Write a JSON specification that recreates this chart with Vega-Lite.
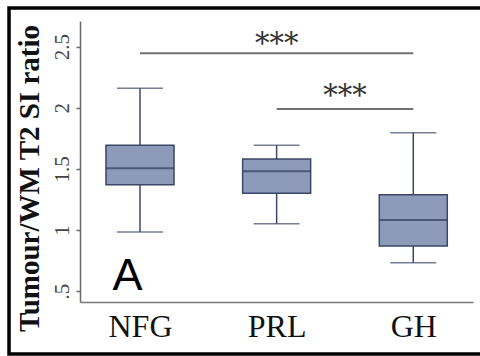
{
  "$schema": "https://vega.github.io/schema/vega-lite/v6.json",
  "width": 393,
  "height": 281,
  "autosize": {"type": "none"},
  "padding": {"left": 80, "top": 21, "right": 7, "bottom": 54},
  "background": "white",
  "config": {"view": {"stroke": null}},
  "datasets": {
    "boxes": [
      {"group": "NFG", "idx": 1, "lower": 0.983, "q1": 1.37, "median": 1.504, "q3": 1.693, "upper": 2.159},
      {"group": "PRL", "idx": 2, "lower": 1.051, "q1": 1.30, "median": 1.48, "q3": 1.58, "upper": 1.693},
      {"group": "GH", "idx": 3, "lower": 0.732, "q1": 0.868, "median": 1.081, "q3": 1.288, "upper": 1.796}
    ],
    "sig": [
      {"from": 1, "to": 3, "mid": 2, "y": 2.446, "ty": 2.446, "label": "***"},
      {"from": 2, "to": 3, "mid": 2.5, "y": 1.99, "ty": 2.02, "label": "***"}
    ]
  },
  "layer": [
    {
      "data": {"name": "boxes"},
      "mark": {"type": "rule", "color": "#3b4766", "strokeWidth": 1.5},
      "encoding": {
        "x": {
          "field": "idx", "type": "quantitative",
          "scale": {"domain": [0.561, 3.437], "nice": false, "zero": false, "padding": 0},
          "axis": {
            "values": [1, 2, 3],
            "labelExpr": "datum.value == 1 ? 'NFG' : datum.value == 2 ? 'PRL' : 'GH'",
            "title": null, "ticks": false, "grid": false,
            "domainColor": "#7a7a7a", "domainWidth": 1.5,
            "labelFont": "Liberation Serif", "labelFontSize": 32, "labelColor": "#111111",
            "labelPadding": 9, "labelFlush": false
          }
        },
        "y": {
          "field": "lower", "type": "quantitative",
          "scale": {"domain": [0.41, 2.71], "nice": false, "zero": false, "padding": 0},
          "axis": {
            "values": [0.5, 1, 1.5, 2, 2.5],
            "labelExpr": "datum.value == 0.5 ? '.5' : format(datum.value, '')",
            "title": "Tumour/WM T2 SI ratio",
            "titleFont": "Liberation Serif", "titleFontWeight": "bold", "titleFontSize": 29, "titleColor": "#111111",
            "titlePadding": 7, "titleY": 157,
            "grid": false, "tickSize": 4, "tickColor": "#6a6a6a", "tickWidth": 1.5,
            "domainColor": "#6a6a6a", "domainWidth": 1.5,
            "labelAngle": 270, "labelAlign": "center", "labelBaseline": "alphabetic", "labelPadding": 8,
            "labelFont": "Liberation Serif", "labelFontSize": 21, "labelColor": "#444444"
          }
        },
        "y2": {"field": "upper"}
      }
    },
    {
      "data": {"name": "boxes"},
      "mark": {"type": "bar", "width": 68, "fill": "#8d9aba", "stroke": "#3b4766", "strokeWidth": 1.5},
      "encoding": {
        "x": {"field": "idx", "type": "quantitative"},
        "y": {"field": "q1", "type": "quantitative"},
        "y2": {"field": "q3"}
      }
    },
    {
      "data": {"name": "boxes"},
      "mark": {"type": "tick", "orient": "horizontal", "size": 68, "thickness": 2, "color": "#2e3a5c"},
      "encoding": {
        "x": {"field": "idx", "type": "quantitative"},
        "y": {"field": "median", "type": "quantitative"}
      }
    },
    {
      "data": {"name": "boxes"},
      "mark": {"type": "tick", "orient": "horizontal", "size": 46, "thickness": 1.5, "color": "#3b4766"},
      "encoding": {
        "x": {"field": "idx", "type": "quantitative"},
        "y": {"field": "lower", "type": "quantitative"}
      }
    },
    {
      "data": {"name": "boxes"},
      "mark": {"type": "tick", "orient": "horizontal", "size": 46, "thickness": 1.5, "color": "#3b4766"},
      "encoding": {
        "x": {"field": "idx", "type": "quantitative"},
        "y": {"field": "upper", "type": "quantitative"}
      }
    },
    {
      "data": {"name": "sig"},
      "mark": {"type": "rule", "color": "#707070", "strokeWidth": 2},
      "encoding": {
        "x": {"field": "from", "type": "quantitative"},
        "x2": {"field": "to"},
        "y": {"field": "y", "type": "quantitative"}
      }
    },
    {
      "data": {"name": "sig"},
      "mark": {"type": "text", "font": "DejaVu Serif", "fontSize": 29, "color": "#333333", "align": "center", "baseline": "alphabetic"},
      "encoding": {
        "x": {"field": "mid", "type": "quantitative"},
        "y": {"field": "ty", "type": "quantitative"},
        "text": {"field": "label"}
      }
    },
    {
      "data": {"values": [{}]},
      "mark": {"type": "text", "font": "Liberation Sans", "fontSize": 45, "color": "black", "align": "center", "baseline": "alphabetic"},
      "encoding": {
        "x": {"datum": 0.9086, "type": "quantitative"},
        "y": {"datum": 0.508, "type": "quantitative"},
        "text": {"value": "A"}
      }
    },
    {
      "data": {"values": [{}]},
      "mark": {"type": "rect", "fillOpacity": 0, "stroke": "black", "strokeWidth": 3.5},
      "encoding": {
        "x": {"datum": 0.0415, "type": "quantitative"},
        "x2": {"datum": 3.6},
        "y": {"datum": -0.0156, "type": "quantitative"},
        "y2": {"datum": 2.8165}
      }
    }
  ]
}
